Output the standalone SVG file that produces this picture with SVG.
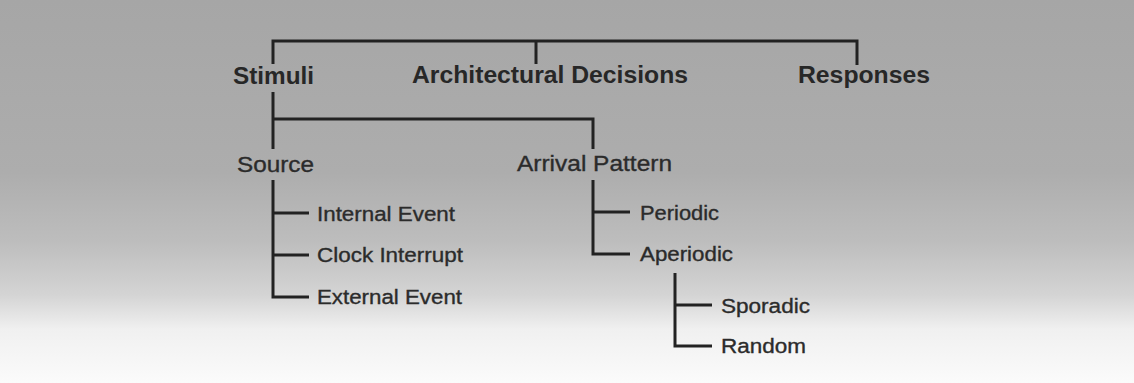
<svg xmlns="http://www.w3.org/2000/svg" width="1134" height="383" viewBox="0 0 1134 383">
  <defs>
    <linearGradient id="paper" x1="0" y1="0" x2="0" y2="1">
      <stop offset="0" stop-color="#a6a6a6"/>
      <stop offset="0.45" stop-color="#adadad"/>
      <stop offset="0.63" stop-color="#bdbdbd"/>
      <stop offset="0.77" stop-color="#d4d4d4"/>
      <stop offset="0.86" stop-color="#f0f0f0"/>
      <stop offset="1" stop-color="#fbfbfb"/>
    </linearGradient>
    <style>
      .wire { fill: none; stroke: #222222; stroke-width: 3; stroke-linecap: butt; stroke-linejoin: miter; }
      .head { font-family: "Liberation Sans", Arial, sans-serif; font-weight: bold; font-size: 23.5px; fill: #272727; }
      .sub  { font-family: "Liberation Sans", Arial, sans-serif; font-size: 22.5px; fill: #2b2b2b; stroke: #2b2b2b; stroke-width: 0.35; }
      .leaf { font-family: "Liberation Sans", Arial, sans-serif; font-size: 20.5px; fill: #2b2b2b; stroke: #2b2b2b; stroke-width: 0.35; }
    </style>
  </defs>

  <rect width="1134" height="383" fill="url(#paper)"/>

  <!-- tree connectors -->
  <g id="connectors" class="wire">
    <!-- top bracket over the three headings -->
    <path d="M273,64 V41 H857 V65"/>
    <path d="M536,41 V64"/>
    <!-- Stimuli to its two children -->
    <path d="M273,92 V149"/>
    <path d="M273,119 H593 V149"/>
    <!-- Source children -->
    <path d="M273,180 V297 H309"/>
    <path d="M273,213 H309"/>
    <path d="M273,255 H309"/>
    <!-- Arrival Pattern children -->
    <path d="M593,180 V254 H630"/>
    <path d="M593,212 H630"/>
    <!-- Aperiodic children -->
    <path d="M675,273 V346 H712"/>
    <path d="M675,305 H712"/>
  </g>

  <g id="stimuli"><text class="head" x="233" y="84" textLength="81" lengthAdjust="spacingAndGlyphs">Stimuli</text></g>
  <g id="architectural-decisions"><text class="head" x="412" y="83" textLength="276" lengthAdjust="spacingAndGlyphs">Architectural Decisions</text></g>
  <g id="responses"><text class="head" x="798" y="83" textLength="132" lengthAdjust="spacingAndGlyphs">Responses</text></g>

  <g id="source"><text class="sub" x="237" y="172" textLength="77" lengthAdjust="spacingAndGlyphs">Source</text></g>
  <g id="arrival-pattern"><text class="sub" x="517" y="171" textLength="155" lengthAdjust="spacingAndGlyphs">Arrival Pattern</text></g>

  <g id="internal-event"><text class="leaf" x="317" y="221" textLength="138" lengthAdjust="spacingAndGlyphs">Internal Event</text></g>
  <g id="clock-interrupt"><text class="leaf" x="317" y="262" textLength="146" lengthAdjust="spacingAndGlyphs">Clock Interrupt</text></g>
  <g id="external-event"><text class="leaf" x="317" y="304" textLength="145" lengthAdjust="spacingAndGlyphs">External Event</text></g>

  <g id="periodic"><text class="leaf" x="640" y="220" textLength="79" lengthAdjust="spacingAndGlyphs">Periodic</text></g>
  <g id="aperiodic"><text class="leaf" x="640" y="261" textLength="93" lengthAdjust="spacingAndGlyphs">Aperiodic</text></g>

  <g id="sporadic"><text class="leaf" x="721" y="313" textLength="89" lengthAdjust="spacingAndGlyphs">Sporadic</text></g>
  <g id="random"><text class="leaf" x="721" y="353" textLength="85" lengthAdjust="spacingAndGlyphs">Random</text></g>
</svg>
